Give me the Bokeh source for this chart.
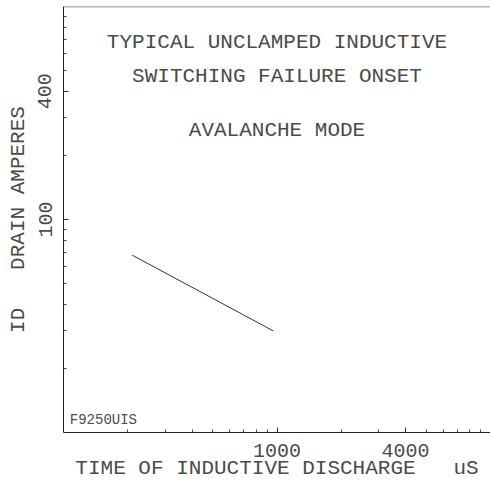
from bokeh.plotting import figure
from bokeh.models import FixedTicker, PrintfTickFormatter, Label, Span
from bokeh.embed import file_html
from bokeh.resources import INLINE

# data
time_us = [210, 960]
drain_amps = [68, 30]
x_major = [1000, 4000]
x_minor = [200, 300, 400, 500, 600, 700, 800, 900, 2000, 3000, 5000, 6000, 7000, 8000, 9000]
y_major = [100, 400]
y_minor = [20, 30, 40, 50, 60, 70, 80, 90, 200, 300, 500, 600, 700, 800, 900]
title_lines = ["TYPICAL UNCLAMPED INDUCTIVE", "SWITCHING FAILURE ONSET", "AVALANCHE MODE"]
title_y = [678, 469, 262]
code_label = "F9250UIS"
y_top = 1000

FONT = "Liberation Mono"
INK = "#4a4a4a"

p = figure(width=490, height=491, x_axis_type="log", y_axis_type="log",
           x_range=(100, 10000), y_range=(10, y_top),
           output_backend="svg", toolbar_location=None,
           min_border_left=63, min_border_right=0, min_border_top=6, min_border_bottom=59)
p.xgrid.visible = False
p.ygrid.visible = False
p.outline_line_color = None
p.background_fill_color = "white"
p.border_fill_color = "white"

p.add_layout(Span(location=y_top, dimension="width", line_color="#666666", line_width=1.5))

p.line(time_us, drain_amps, line_color="#333333", line_width=1)

for ax, major, minor in ((p.xaxis[0], x_major, x_minor), (p.yaxis[0], y_major, y_minor)):
    ax.ticker = FixedTicker(ticks=major, minor_ticks=minor)
    ax.formatter = PrintfTickFormatter(format="%d")
    ax.major_tick_in = 5
    ax.major_tick_out = 0
    ax.minor_tick_in = 3
    ax.minor_tick_out = 0
    ax.axis_line_color = "#222222"
    ax.major_tick_line_color = "#333333"
    ax.minor_tick_line_color = "#444444"
    ax.major_label_text_font = FONT
    ax.major_label_text_font_size = "20px"
    ax.major_label_text_color = INK
    ax.axis_label_text_font = FONT
    ax.axis_label_text_font_size = "21px"
    ax.axis_label_text_font_style = "normal"
    ax.axis_label_text_color = INK

p.xaxis.major_label_standoff = 11
p.xaxis.axis_label_standoff = -3
p.yaxis.major_label_standoff = 12
p.yaxis.axis_label_standoff = 6

p.xaxis.axis_label = "TIME OF INDUCTIVE DISCHARGE\u00a0\u00a0\u00a0uS"
p.yaxis.axis_label = "ID\u00a0\u00a0\u00a0DRAIN AMPERES"
p.yaxis.major_label_orientation = "vertical"

for txt, yv in zip(title_lines, title_y):
    p.add_layout(Label(x=1000, y=yv, text=txt, text_align="center", text_baseline="middle",
                       text_font=FONT, text_font_size="21px", text_color=INK))

p.add_layout(Label(x=107, y=11.5, text=code_label, text_align="left", text_baseline="middle",
                   text_font=FONT, text_font_size="14px", text_color=INK))

open("out.html", "w").write(file_html(p, INLINE))
